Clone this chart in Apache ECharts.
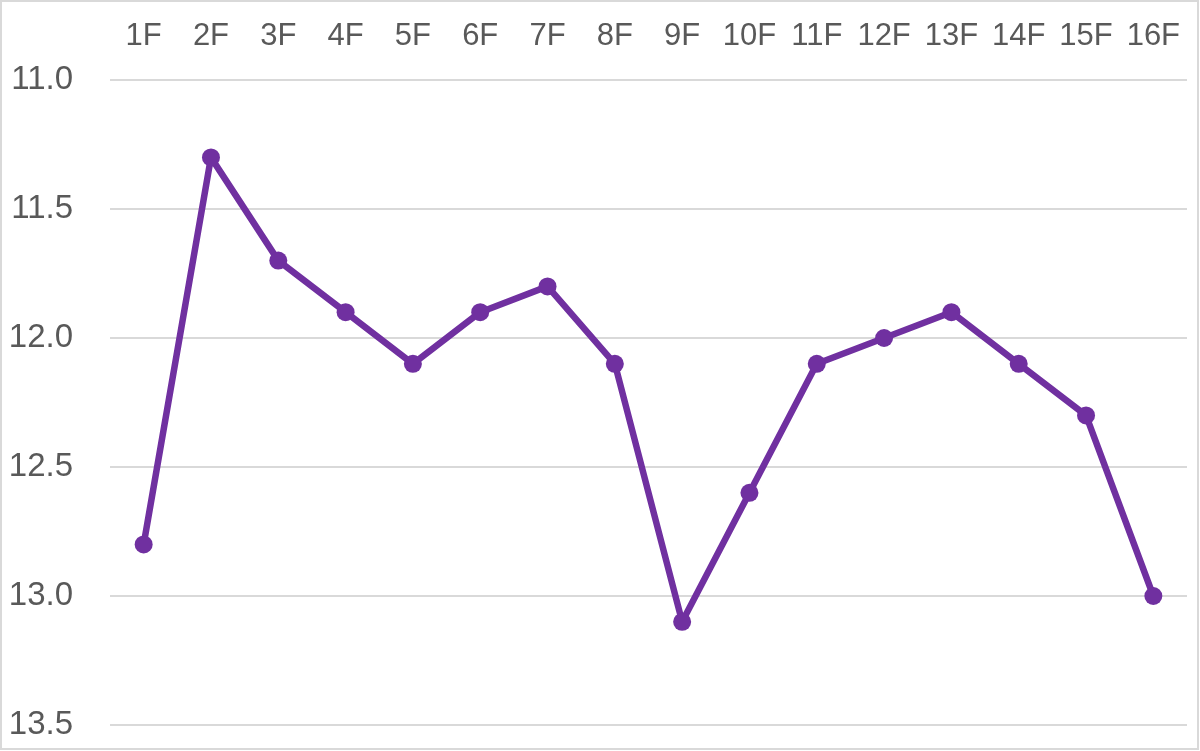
<!DOCTYPE html>
<html><head><meta charset="utf-8">
<script src="https://cdn.jsdelivr.net/npm/echarts@6/dist/echarts.min.js"></script>
<style>html,body{margin:0;padding:0;background:#fff}#c{width:1200px;height:751px}</style>
</head><body><div id="c"></div>
<script>
const categories = ['1F','2F','3F','4F','5F','6F','7F','8F','9F','10F','11F','12F','13F','14F','15F','16F'];
const values = [12.8, 11.3, 11.7, 11.9, 12.1, 11.9, 11.8, 12.1, 13.1, 12.6, 12.1, 12.0, 11.9, 12.1, 12.3, 13.0];
const yMin = 11.0, yMax = 13.5, yStep = 0.5;

const chart = echarts.init(document.getElementById('c'), null, {renderer: 'canvas'});
const font = 'Liberation Sans';
chart.setOption({
  animation: false,
  backgroundColor: '#fff',
  graphic: [{type: 'rect', shape: {x: 1, y: 1, width: 1197, height: 748}, style: {fill: 'none', stroke: '#d9d9d9', lineWidth: 2}, silent: true}],
  grid: {left: 110, right: 13, top: 80, bottom: 26, containLabel: false},
  xAxis: {
    type: 'category', position: 'top', data: categories, boundaryGap: true,
    axisLine: {show: false}, axisTick: {show: false},
    axisLabel: {color: '#595959', fontSize: 31, fontFamily: font, margin: 28, interval: 0}
  },
  yAxis: {
    type: 'value', inverse: true, min: yMin, max: yMax, interval: yStep,
    axisLine: {show: false}, axisTick: {show: false},
    axisLabel: {color: '#595959', fontSize: 33, fontFamily: font, margin: 37, formatter: v => v.toFixed(1)},
    splitLine: {lineStyle: {color: '#d9d9d9', width: 2}}
  },
  series: [{
    type: 'line', data: values, symbol: 'circle', symbolSize: 18,
    lineStyle: {color: '#7030A0', width: 6.5}, itemStyle: {color: '#7030A0'}
  }]
});
</script></body></html>
